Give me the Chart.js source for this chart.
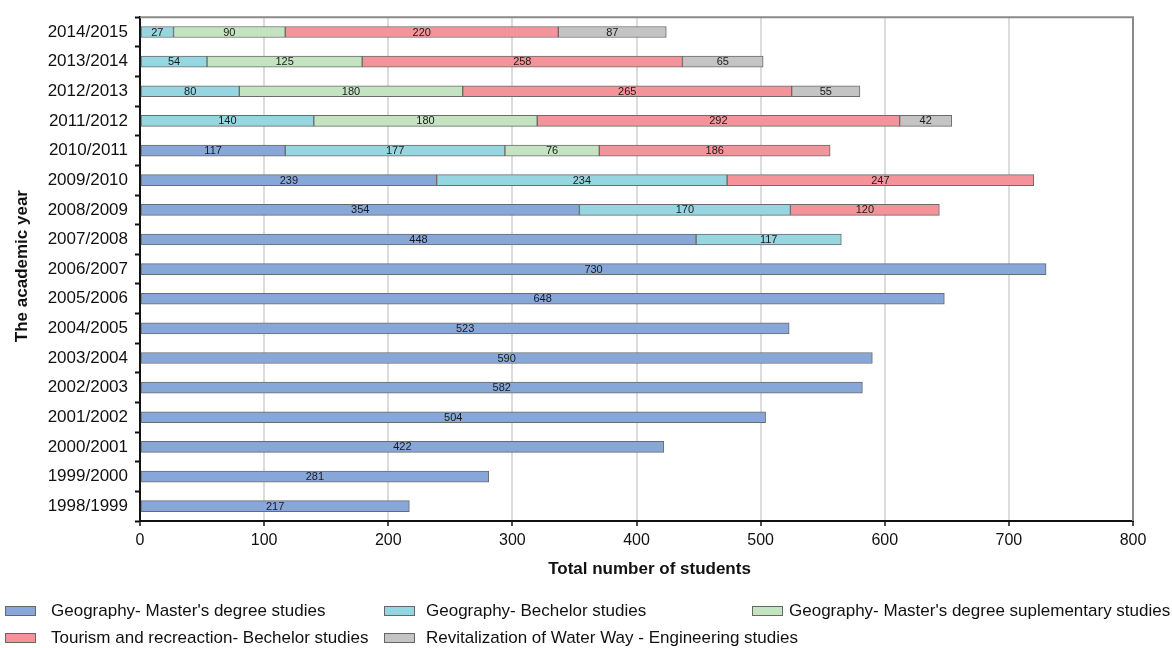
<!DOCTYPE html>
<html>
<head>
<meta charset="utf-8">
<script src="https://cdn.jsdelivr.net/npm/chart.js@4/dist/chart.umd.min.js"></script>
<style>
  html, body { margin: 0; padding: 0; background: #fff; }
  #wrap { position: relative; width: 1172px; height: 648px; }
  #chart { position: absolute; left: 0; top: 0; }
  .lg { position: absolute; font-family: "Liberation Sans", Arial, sans-serif; font-size: 17px; color: #111; white-space: nowrap; line-height: 20px; }
  .lg-box { position: absolute; width: 29px; height: 8px; border: 1px solid #666; }
</style>
</head>
<body>
<div id="wrap">
  <canvas id="chart" width="1172" height="648"></canvas>
  <div id="legend"></div>
</div>
<script>
// Academic years, top row first
const years = ['2014/2015','2013/2014','2012/2013','2011/2012','2010/2011','2009/2010','2008/2009',
  '2007/2008','2006/2007','2005/2006','2004/2005','2003/2004','2002/2003','2001/2002','2000/2001',
  '1999/2000','1998/1999'];

// Students per programme (null = programme not offered that year)
const geoMaster =       [null, null, null, null, 117, 239, 354, 448, 730, 648, 523, 590, 582, 504, 422, 281, 217];
const geoBachelor =     [27, 54, 80, 140, 177, 234, 170, 117, null, null, null, null, null, null, null, null, null];
const geoSupplementary =[90, 125, 180, 180, 76, null, null, null, null, null, null, null, null, null, null, null, null];
const tourismBachelor = [220, 258, 265, 292, 186, 247, 120, null, null, null, null, null, null, null, null, null, null];
const waterWayEng =     [87, 65, 55, 42, null, null, null, null, null, null, null, null, null, null, null, null, null];

const seriesNames = [
  "Geography- Master's degree studies",
  "Geography- Bechelor studies",
  "Geography- Master's degree suplementary studies",
  "Tourism and recreaction- Bechelor studies",
  "Revitalization of Water Way - Engineering studies"
];
const xTicks = [0, 100, 200, 300, 400, 500, 600, 700, 800];
const xTitle = 'Total number of students';
const yTitle = 'The academic year';

const colors = ['#87a7d9', '#95d6e1', '#c4e3c0', '#f5939a', '#c4c4c4'];
const FONT = '"Liberation Sans", Arial, sans-serif';

const seriesData = [geoMaster, geoBachelor, geoSupplementary, tourismBachelor, waterWayEng];
const datasets = seriesData.map((d, i) => ({
  label: seriesNames[i],
  data: d,
  backgroundColor: colors[i],
  borderColor: '#6b6b6b',
  borderWidth: 1,
  borderSkipped: false,
  barThickness: 11
}));

// Value printed in the middle of each bar segment
const segmentLabels = {
  id: 'segmentLabels',
  afterDatasetsDraw(chart) {
    const ctx = chart.ctx;
    ctx.save();
    ctx.font = '11px ' + FONT;
    ctx.fillStyle = '#1a1a1a';
    ctx.textAlign = 'center';
    ctx.textBaseline = 'middle';
    chart.data.datasets.forEach((ds, di) => {
      const meta = chart.getDatasetMeta(di);
      meta.data.forEach((bar, i) => {
        const v = ds.data[i];
        if (v === null || v === undefined) return;
        const p = bar.getProps(['x', 'y', 'base'], true);
        ctx.fillText(String(v), (p.x + p.base) / 2, p.y + 0.5);
      });
    });
    ctx.restore();
  }
};

// Grey top and right edges of the plot frame, plus the two axis titles
const frameAndTitles = {
  id: 'frameAndTitles',
  afterDraw(chart) {
    const { ctx, chartArea: a } = chart;
    ctx.save();
    ctx.strokeStyle = '#8a8a8a';
    ctx.lineWidth = 2;
    ctx.beginPath();
    ctx.moveTo(a.left, a.top);
    ctx.lineTo(a.right, a.top);
    ctx.lineTo(a.right, a.bottom);
    ctx.stroke();

    ctx.fillStyle = '#111';
    ctx.font = 'bold 17px ' + FONT;
    ctx.textAlign = 'center';
    ctx.textBaseline = 'middle';
    ctx.fillText(xTitle, a.left + (a.right - a.left) / 2 + 13, a.bottom + 48);
    ctx.translate(22, a.top + (a.bottom - a.top) / 2 - 3);
    ctx.rotate(-Math.PI / 2);
    ctx.fillText(yTitle, 0, 0);
    ctx.restore();
  }
};

new Chart(document.getElementById('chart'), {
  type: 'bar',
  data: { labels: years, datasets },
  options: {
    indexAxis: 'y',
    responsive: false,
    animation: false,
    layout: { padding: { top: 10, right: 39, left: 0, bottom: 0 } },
    plugins: { legend: { display: false }, tooltip: { enabled: false } },
    scales: {
      x: {
        stacked: true,
        min: 0,
        max: 800,
        afterBuildTicks(scale) { scale.ticks = xTicks.map(v => ({ value: v })); },
        afterFit(scale) { scale.height = 127; },
        ticks: { color: '#111', font: { family: FONT, size: 16 }, padding: 5 },
        grid: { color: '#dcdcdc', lineWidth: 2, tickColor: '#111', tickLength: 5, tickWidth: 1.5 },
        border: { color: '#111', width: 2 }
      },
      y: {
        stacked: true,
        afterFit(scale) { scale.width = 140; },
        ticks: { color: '#111', font: { family: FONT, size: 17 }, padding: 7 },
        grid: { drawOnChartArea: false, offset: true, tickColor: '#111', tickLength: 5, tickWidth: 2 },
        border: { color: '#111', width: 2 }
      }
    }
  },
  plugins: [segmentLabels, frameAndTitles]
});

// Legend below the chart: three columns, two rows
const legend = document.getElementById('legend');
const colBox = [5, 384, 752];
const colText = [51, 426, 789];
const rowY = [611, 638];
seriesNames.forEach((name, i) => {
  const r = Math.floor(i / 3), c = i % 3;
  const box = document.createElement('div');
  box.className = 'lg-box';
  box.style.left = colBox[c] + 'px';
  box.style.top = (rowY[r] - 5) + 'px';
  box.style.background = colors[i];
  legend.appendChild(box);
  const t = document.createElement('div');
  t.className = 'lg';
  t.style.left = colText[c] + 'px';
  t.style.top = (rowY[r] - 10) + 'px';
  t.textContent = name;
  legend.appendChild(t);
});
</script>
</body>
</html>
